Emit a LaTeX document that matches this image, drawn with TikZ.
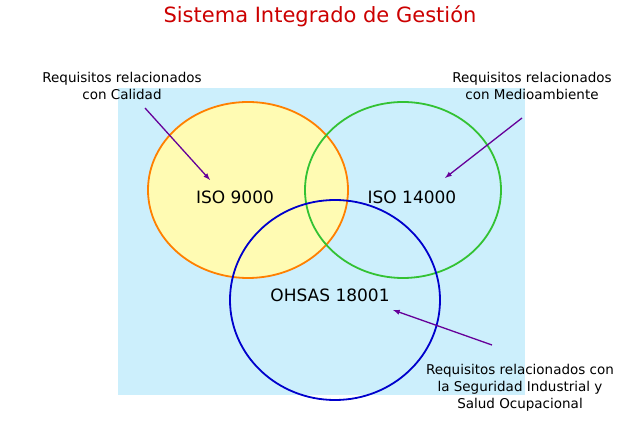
\documentclass[tikz,border=0pt]{standalone}
\usepackage{fontspec}
\setmainfont{DejaVu Sans}
\begin{document}
\begin{tikzpicture}[x=1pt,y=-1pt,
  lbl/.style={font=\fontsize{13.5}{17}\selectfont,align=center,text=black},
  iso/.style={font=\fontsize{17}{19}\selectfont,text=black},
  arr/.style={draw=violet!80!blue,line width=1.3pt,-latex}]
\useasboundingbox (0,0) rectangle (640,427);
\fill[white] (0,0) rectangle (640,427);
\fill[cyan!20] (118,88) rectangle (525,395);
\node[font=\fontsize{21}{23}\selectfont,text=red!80!black] (title) at (320,16) {Sistema Integrado de Gestión};
\fill[yellow!30] (248,190) ellipse [x radius=100,y radius=88];
\draw[orange,line width=1.8pt] (248,190) ellipse [x radius=100,y radius=88];
\draw[green!70!black!80,line width=1.8pt] (403,190) ellipse [x radius=98,y radius=88];
\draw[blue!80!black,line width=1.8pt] (335,300) ellipse [x radius=105,y radius=100];
\node[iso] (a) at (235,197) {ISO 9000};
\node[iso] (b) at (412,197) {ISO 14000};
\node[iso] (c) at (330,295) {OHSAS 18001};
\node[lbl] (la) at (122,86) {Requisitos relacionados\\con Calidad};
\node[lbl] (lb) at (532,86) {Requisitos relacionados\\con Medioambiente};
\node[lbl] (lc) at (520,388) {Requisitos relacionados con\\la Seguridad Industrial y\\Salud Ocupacional};
\coordinate (ea) at (210,180);
\coordinate (eb) at (445,178);
\coordinate (ec) at (393,310);
\draw[arr] (145,108) -- (ea);
\draw[arr] (522,118) -- (eb);
\draw[arr] (492,345) -- (ec);
\end{tikzpicture}
\end{document}
